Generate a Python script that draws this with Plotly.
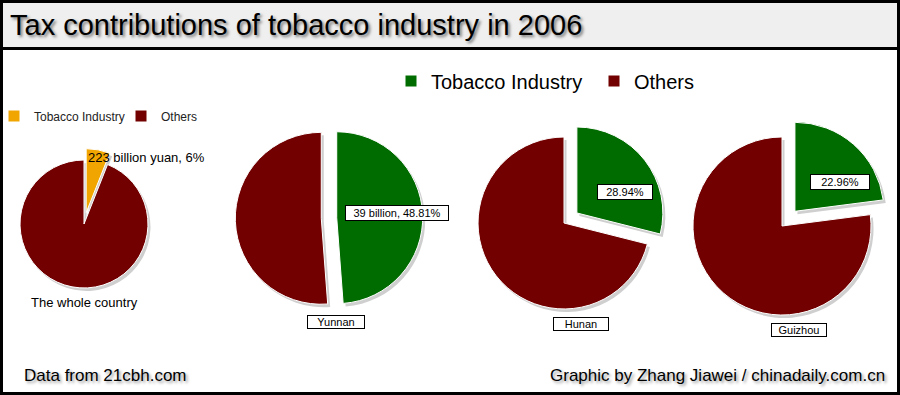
import plotly.graph_objects as go

W, H = 900, 395

categories = ["Tobacco Industry", "Others"]
regions = ["The whole country", "Yunnan", "Hunan", "Guizhou"]
tobacco_share = [6.0, 48.81, 28.94, 22.96]
others_share = [94.0, 51.19, 71.06, 77.04]
pulls = [[0.18, 0.0], [0.09, 0.09], [0.19, 0.0], [0.22, 0.0]]
value_labels = ["223 billion yuan, 6%", "39 billion, 48.81%", "28.94%", "22.96%"]

ORANGE = "#f0a500"
GREEN = "#006c00"
DARKRED = "#730000"
tob_colors = [ORANGE, GREEN, GREEN, GREEN]

FONT = "Liberation Sans, Arial, sans-serif"

# pie domains in pixels: (x0, x1, ytop, ybottom)
dom_px = [(8.5, 159.5, 148.5, 299.5),
          (235.3, 422.7, 124.3, 311.7),
          (461.7, 666.3, 120.7, 325.3),
          (673.4, 890.6, 117.4, 334.6)]


def px_x(x):
    return x / W


def px_y(y):
    return 1 - y / H


fig = go.Figure()

for i in range(4):
    x0, x1, yt, yb = dom_px[i]
    # the small national pie has its own legend; a trailing space keeps its
    # legend entries separate from the regional ones (renders identically)
    labels = categories if i == 0 else [c + " " for c in categories]
    # soft drop shadow
    fig.add_trace(go.Pie(
        values=[tobacco_share[i], others_share[i]], labels=labels,
        sort=False, direction="clockwise", rotation=0, pull=pulls[i],
        marker=dict(colors=["#cfcfcf", "#cfcfcf"], line=dict(width=0)),
        textinfo="none", hoverinfo="skip", showlegend=False,
        domain=dict(x=[px_x(x0 + 2.5), px_x(x1 + 2.5)], y=[px_y(yb + 3), px_y(yt + 3)]),
    ))
    fig.add_trace(go.Pie(
        values=[tobacco_share[i], others_share[i]], labels=labels,
        sort=False, direction="clockwise", rotation=0, pull=pulls[i],
        marker=dict(colors=[tob_colors[i], DARKRED], line=dict(color="white", width=1)),
        textinfo="none", hoverinfo="label+percent",
        showlegend=True, legend=("legend2" if i == 0 else "legend"),
        domain=dict(x=[px_x(x0), px_x(x1)], y=[px_y(yb), px_y(yt)]),
    ))

shapes = [
    dict(type="rect", xref="paper", yref="paper", x0=0, x1=1, y0=px_y(48), y1=1,
         fillcolor="#efefef", line=dict(width=0), layer="below"),
    dict(type="line", xref="paper", yref="paper", x0=0, x1=1, y0=px_y(48.5), y1=px_y(48.5),
         line=dict(color="black", width=3)),
    dict(type="rect", xref="paper", yref="paper", x0=0, x1=1, y0=0, y1=1,
         line=dict(color="black", width=6)),
]

annotations = [
    dict(text="Tax contributions of tobacco industry in 2006", x=px_x(8), y=px_y(25),
         xanchor="left", yanchor="middle", showarrow=False,
         font=dict(family=FONT, size=29, color="black",
                   shadow="2px 2px 3px #777")),
    dict(text="Data from 21cbh.com", x=px_x(22), y=px_y(375),
         xanchor="left", yanchor="middle", showarrow=False,
         font=dict(family=FONT, size=17, color="black",
                   shadow="2px 2px 3px #999")),
    dict(text="Graphic by Zhang Jiawei / chinadaily.com.cn", x=px_x(887), y=px_y(375),
         xanchor="right", yanchor="middle", showarrow=False,
         font=dict(family=FONT, size=17, color="black",
                   shadow="2px 2px 3px #999")),
    # whole country labels
    dict(text=value_labels[0], x=px_x(86), y=px_y(157), xanchor="left", yanchor="middle",
         showarrow=False, font=dict(family=FONT, size=13, color="black")),
    dict(text=regions[0], x=px_x(84), y=px_y(302), xanchor="center", yanchor="middle",
         showarrow=False, font=dict(family=FONT, size=13, color="black")),
]

box_font = dict(family=FONT, size=11, color="black")
value_pos = [None, (397, 213), (625, 192), (840, 182)]
value_w = [None, 100, 52, 56]
name_pos = [None, (336, 322), (581, 324), (799, 330)]
name_w = [None, 56, 54, 54]
for i in range(1, 4):
    annotations.append(dict(text=value_labels[i], x=px_x(value_pos[i][0]), y=px_y(value_pos[i][1]),
                            xanchor="center", yanchor="middle", showarrow=False, width=value_w[i],
                            bgcolor="white", bordercolor="black", borderwidth=1, borderpad=1,
                            font=box_font))
    annotations.append(dict(text=regions[i], x=px_x(name_pos[i][0]), y=px_y(name_pos[i][1]),
                            xanchor="center", yanchor="middle", showarrow=False, width=name_w[i],
                            bgcolor="white", bordercolor="black", borderwidth=1, borderpad=0,
                            font=box_font))

fig.update_layout(
    width=W, height=H, margin=dict(l=0, r=0, t=0, b=0, autoexpand=False),
    paper_bgcolor="white", plot_bgcolor="white",
    shapes=shapes, annotations=annotations,
    legend=dict(orientation="h", x=px_x(391), y=px_y(81), xanchor="left", yanchor="middle",
                font=dict(family=FONT, size=20, color="black"),
                bgcolor="rgba(0,0,0,0)", itemwidth=30, entrywidth=158, traceorder="normal"),
    legend2=dict(orientation="h", x=px_x(-6), y=px_y(116), xanchor="left", yanchor="middle",
                 font=dict(family=FONT, size=12, color="#222"),
                 bgcolor="rgba(0,0,0,0)", itemwidth=30, entrywidth=82, traceorder="normal"),
)

fig.write_html("out.html", config={"displayModeBar": False},
               post_script="document.body.style.margin='0';document.body.style.overflow='hidden';")
